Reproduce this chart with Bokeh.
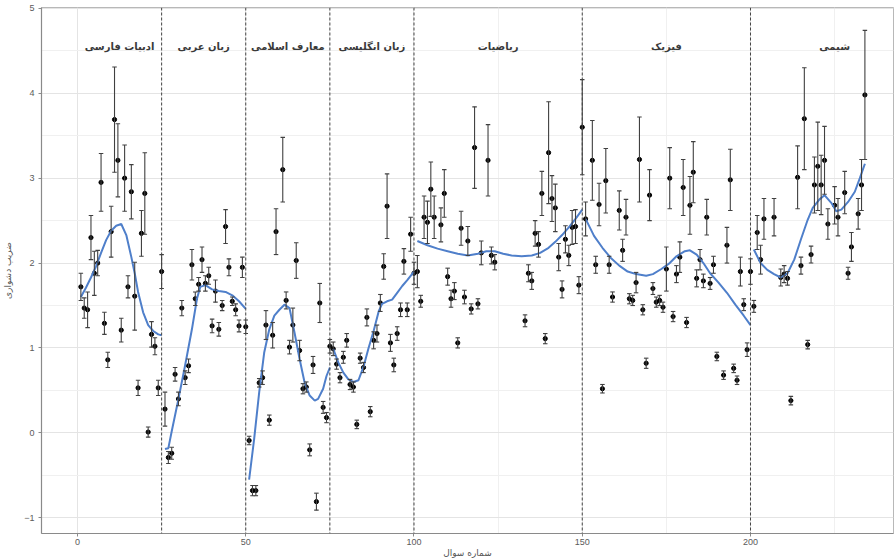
from bokeh.plotting import figure
from bokeh.models import ColumnDataSource, Whisker, TeeHead, Span, FixedTicker
from bokeh.embed import file_html
from bokeh.resources import INLINE
from bokeh.core.properties import value

# Item difficulty estimates (question number, difficulty, standard error)
question = [
    1, 2, 3, 4, 5, 6, 7, 8, 9, 10, 11, 12, 13, 14, 15, 16, 17, 18, 19, 20, 21, 22, 23, 24, 25,
    26, 27, 28, 29, 30, 31, 32, 33, 34, 35, 36, 37, 38, 39, 40, 41, 42, 43, 44, 45, 46, 47, 48, 49, 50,
    51, 52, 53, 54, 55, 56, 57, 58, 59, 61, 62, 63, 64, 65, 66, 67, 68, 69, 70, 71, 72, 73, 74, 75,
    76, 77, 78, 79, 80, 81, 82, 83, 84, 85, 86, 87, 88, 89, 90, 91, 92, 93, 94, 95, 96, 97, 98, 99, 100,
    101, 102, 103, 104, 105, 106, 108, 109, 110, 111, 112, 113, 114, 115, 116, 117, 118, 119, 120,
    122, 123, 124, 133, 134, 135, 136, 137, 138, 139, 140, 141, 142, 143, 144, 145, 146, 147, 148,
    149, 150,
    151, 153, 154, 155, 156, 157, 158, 159, 161, 162, 163, 164, 165, 166, 167, 168, 169, 170, 171,
    172, 173, 174, 175, 176, 177, 178, 179, 180, 181, 182, 183, 184, 185, 186, 187, 188, 189, 190,
    192, 193, 194, 195, 196, 197, 198, 199, 200,
    201, 202, 203, 204, 207, 209, 210, 211, 212, 214, 215, 216, 217, 218, 219, 220, 221, 222, 223,
    225, 226, 228, 229, 230, 232, 233, 234,
]
difficulty = [
    1.72, 1.47, 1.45, 2.30, 1.88, 2.00, 2.95, 1.29, 0.86, 2.37, 3.69, 3.21, 1.21, 3.00, 1.72, 2.84,
    1.61, 0.53, 2.35, 2.82, 0.01, 1.16, 1.02, 0.53, 1.90,
    0.28, -0.29, -0.24, 0.69, 0.40, 1.47, 0.65, 0.79, 1.98, 1.58, 1.75, 2.04, 1.76, 1.85, 1.26, 1.67,
    1.22, 1.50, 2.43, 1.95, 1.55, 1.45, 1.26, 1.95, 1.25,
    -0.09, -0.68, -0.68, 0.59, 0.65, 1.27, 0.15, 1.15, 2.37, 3.10, 1.56, 1.01, 1.27, 2.03, 0.97, 0.52,
    0.54, -0.20, 0.80, -0.81, 1.53, 0.30, 0.18, 1.02,
    0.99, 0.81, 0.65, 0.89, 1.09, 0.57, 0.54, 0.10, 0.88, 0.77, 1.36, 0.25, 1.09, 1.17, 1.53, 1.96,
    2.67, 1.06, 0.80, 1.17, 1.45, 2.02, 1.45, 2.34, 1.88,
    1.90, 1.55, 2.54, 2.48, 2.87, 2.54, 2.45, 2.82, 1.84, 1.58, 1.67, 1.06, 2.41, 1.60, 2.26, 1.46,
    3.36, 1.52, 2.12, 3.21, 2.09, 2.01, 1.32, 1.88, 1.79, 2.35, 2.22, 2.82, 1.11, 3.30, 2.76, 2.65,
    2.07, 1.69, 2.28, 2.09, 2.42, 2.43, 1.74, 3.60,
    2.52, 3.21, 1.98, 2.69, 0.52, 2.97, 1.98, 1.60, 2.62, 2.15, 2.54, 1.58, 1.56, 1.77, 3.22, 1.45,
    0.82, 2.80, 1.70, 1.54, 1.56, 1.48, 1.93, 3.00, 1.37, 1.87, 2.07, 2.89, 1.30, 2.68, 3.07, 1.82,
    2.04, 1.79, 2.54, 1.76, 1.98, 0.90, 0.68, 2.21, 2.98, 0.76, 0.62, 1.90, 1.51, 0.98, 1.90,
    1.49, 2.36, 2.04, 2.52, 2.54, 1.83, 1.87, 1.82, 0.38, 3.01, 1.97, 3.70, 1.04, 2.10, 2.92, 3.14,
    2.92, 3.21, 2.46, 2.68, 2.54, 2.83, 1.88, 2.19, 2.58, 2.92, 3.98,
]
std_error = [
    0.16, 0.12, 0.21, 0.26, 0.26, 0.15, 0.34, 0.13, 0.09, 0.30, 0.62, 0.43, 0.14, 0.39, 0.13, 0.32,
    0.40, 0.09, 0.27, 0.48, 0.06, 0.15, 0.10, 0.09, 0.20,
    0.20, 0.07, 0.07, 0.08, 0.08, 0.09, 0.08, 0.08, 0.18, 0.08, 0.08, 0.15, 0.09, 0.10, 0.08, 0.13,
    0.08, 0.06, 0.20, 0.10, 0.05, 0.07, 0.07, 0.12, 0.08,
    0.05, 0.06, 0.06, 0.05, 0.08, 0.17, 0.06, 0.15, 0.27, 0.38, 0.10, 0.08, 0.20, 0.21, 0.12, 0.06,
    0.06, 0.07, 0.10, 0.10, 0.23, 0.07, 0.06, 0.08,
    0.08, 0.06, 0.06, 0.07, 0.08, 0.06, 0.06, 0.05, 0.06, 0.06, 0.10, 0.06, 0.10, 0.10, 0.10, 0.15,
    0.38, 0.10, 0.08, 0.08, 0.08, 0.15, 0.08, 0.20, 0.13,
    0.19, 0.07, 0.25, 0.25, 0.32, 0.25, 0.20, 0.28, 0.10, 0.10, 0.10, 0.06, 0.20, 0.08, 0.17, 0.06,
    0.48, 0.06, 0.14, 0.42, 0.10, 0.09, 0.07, 0.10, 0.10, 0.15, 0.15, 0.26, 0.06, 0.60, 0.27, 0.28,
    0.16, 0.10, 0.16, 0.12, 0.20, 0.20, 0.10, 0.56,
    0.20, 0.47, 0.10, 0.25, 0.05, 0.38, 0.10, 0.06, 0.23, 0.13, 0.21, 0.06, 0.06, 0.12, 0.50, 0.06,
    0.06, 0.30, 0.07, 0.06, 0.06, 0.06, 0.26, 0.36, 0.06, 0.10, 0.18, 0.33, 0.06, 0.34, 0.36, 0.10,
    0.12, 0.08, 0.21, 0.07, 0.10, 0.05, 0.05, 0.21, 0.36, 0.05, 0.05, 0.17, 0.07, 0.08, 0.15,
    0.07, 0.20, 0.17, 0.24, 0.22, 0.10, 0.10, 0.08, 0.05, 0.37, 0.10, 0.60, 0.05, 0.10, 0.33, 0.52,
    0.35, 0.40, 0.18, 0.22, 0.22, 0.25, 0.07, 0.17, 0.18, 0.30, 0.76,
]

# Subject sections
section_names = ["ادبیات فارسی", "زبان عربی", "معارف اسلامی", "زبان انگلیسی", "ریاضیات", "فیزیک", "شیمی"]
section_centers = [12.5, 37.5, 62.5, 87.5, 125, 175, 225]
section_breaks = [25, 50, 75, 100, 150, 200]

# Smoothed trend within each section
smooth_x = [
    [1, 2.5, 4, 5.5, 7, 8.5, 10, 11.5, 13, 14.5, 16, 17, 18, 19.5, 21, 22.5, 24, 25],
    [26, 27, 28, 30, 32, 34, 35.5, 36.5, 38, 40, 42, 44, 46, 48, 50],
    [51, 52.5, 54, 55.5, 57, 58.5, 60, 61.5, 63, 64.5, 66, 67.5, 69, 70.5, 71.5, 73, 74, 75],
    [76, 77.5, 79, 80.5, 82, 83.5, 85, 86.5, 88, 89.5, 90.5, 92, 93.5, 95, 96.5, 98, 100],
    [101, 104, 107, 110, 113, 116, 119, 121.5, 124, 126.5, 129, 132, 135, 137.5, 140, 142, 144,
     146, 148, 150],
    [151, 153.5, 156, 158.5, 161, 163.5, 166, 169, 171, 173.5, 176, 178, 180.5, 182, 184, 186,
     188, 190.5, 193, 195.5, 198, 200],
    [201, 203, 205, 207, 209, 211, 213, 215, 217, 218.5, 220.5, 222, 224, 225.5, 227, 229, 231,
     232.5, 234],
]
smooth_y = [
    [1.60, 1.71, 1.83, 1.96, 2.12, 2.27, 2.38, 2.44, 2.46, 2.33, 2.07, 1.88, 1.66, 1.42, 1.27,
     1.20, 1.16, 1.15],
    [-0.19, -0.18, 0.02, 0.40, 0.80, 1.22, 1.58, 1.72, 1.74, 1.69, 1.67, 1.66, 1.62, 1.55, 1.46],
    [-0.55, -0.07, 0.48, 0.95, 1.22, 1.38, 1.45, 1.51, 1.47, 1.18, 0.87, 0.59, 0.44, 0.38, 0.40,
     0.52, 0.67, 0.77],
    [0.99, 0.83, 0.71, 0.63, 0.60, 0.62, 0.78, 1.00, 1.20, 1.43, 1.52, 1.55, 1.57, 1.65, 1.73,
     1.80, 1.90],
    [2.26, 2.21, 2.17, 2.14, 2.11, 2.09, 2.11, 2.14, 2.14, 2.11, 2.09, 2.08, 2.09, 2.12, 2.18,
     2.25, 2.33, 2.42, 2.52, 2.63],
    [2.52, 2.32, 2.18, 2.06, 1.97, 1.90, 1.87, 1.85, 1.87, 1.93, 2.00, 2.08, 2.14, 2.15, 2.10,
     2.00, 1.88, 1.77, 1.65, 1.51, 1.38, 1.27],
    [2.16, 2.00, 1.92, 1.87, 1.83, 1.88, 2.04, 2.28, 2.51, 2.65, 2.75, 2.80, 2.71, 2.61, 2.63,
     2.72, 2.84, 3.00, 3.17],
]

x_ticks = [0, 50, 100, 150, 200]
y_ticks = [-1, 0, 1, 2, 3, 4, 5]

src = ColumnDataSource(dict(
    q=question,
    d=difficulty,
    lo=[d - e for d, e in zip(difficulty, std_error)],
    hi=[d + e for d, e in zip(difficulty, std_error)],
))

p = figure(
    width=894, height=560,
    x_range=(-10.7, 242.5), y_range=(-1.185, 5.01),
    output_backend="svg", toolbar_location=None,
    min_border_left=41, min_border_right=1, min_border_top=7, min_border_bottom=25,
    background_fill_color="white", border_fill_color="white",
)

# grid and axes
xt = FixedTicker(ticks=x_ticks, minor_ticks=[t + 25 for t in x_ticks])
yt = FixedTicker(ticks=y_ticks, minor_ticks=[t + 0.5 for t in y_ticks[:-1]])
p.xaxis.ticker = xt
p.yaxis.ticker = yt
p.xgrid.ticker = xt
p.ygrid.ticker = yt
for g in (p.xgrid, p.ygrid):
    g.grid_line_color = "#e4e4e4"
    g.grid_line_width = 1
    g.minor_grid_line_color = "#f0f0f0"
    g.minor_grid_line_width = 1

p.outline_line_color = "#b8b8b8"
p.outline_line_width = 1
for ax in (p.xaxis, p.yaxis):
    ax.axis_line_color = "#8a8a8a"
    ax.axis_line_width = 1.2
    ax.major_tick_line_color = "#8a8a8a"
    ax.major_tick_out = 3
    ax.major_tick_in = 0
    ax.minor_tick_line_color = None
    ax.major_label_text_color = "#5a5a5a"
    ax.major_label_text_font = "Liberation Sans"
    ax.major_label_text_font_size = "9px"
    ax.axis_label_text_font = "DejaVu Sans"
    ax.axis_label_text_font_size = "9px"
    ax.axis_label_text_font_style = "normal"
    ax.axis_label_text_color = "#555555"

p.xaxis.axis_label = "شماره سوال"
p.yaxis.axis_label = "ضریب دشواری"
p.xaxis.major_label_standoff = 1
p.xaxis.axis_label_standoff = 0
p.yaxis.major_label_standoff = 3
p.yaxis.axis_label_standoff = 8

# section separators
for b in section_breaks:
    p.add_layout(Span(location=b, dimension="height", line_color="#444444",
                      line_width=1, line_dash="3 2"))

# error bars and points
whisk = Whisker(source=src, base="q", lower="lo", upper="hi", level="glyph",
                line_color="#404040", line_width=1.1,
                lower_head=TeeHead(size=4.5, line_color="#404040", line_width=1.1),
                upper_head=TeeHead(size=4.5, line_color="#404040", line_width=1.1))
p.add_layout(whisk)
p.scatter("q", "d", source=src, size=4.2, color="black")

# smoothed trends
for xs, ys in zip(smooth_x, smooth_y):
    p.line(xs, ys, line_color="#4f7fca", line_width=2)

# section titles
p.text(x=section_centers, y=[4.55] * len(section_names), text=section_names,
       text_font=value("DejaVu Sans"), text_font_style="bold", text_font_size="10px",
       text_align="center", text_baseline="middle", text_color="#3a3a3a")

open("out.html", "w").write(file_html(p, INLINE))
